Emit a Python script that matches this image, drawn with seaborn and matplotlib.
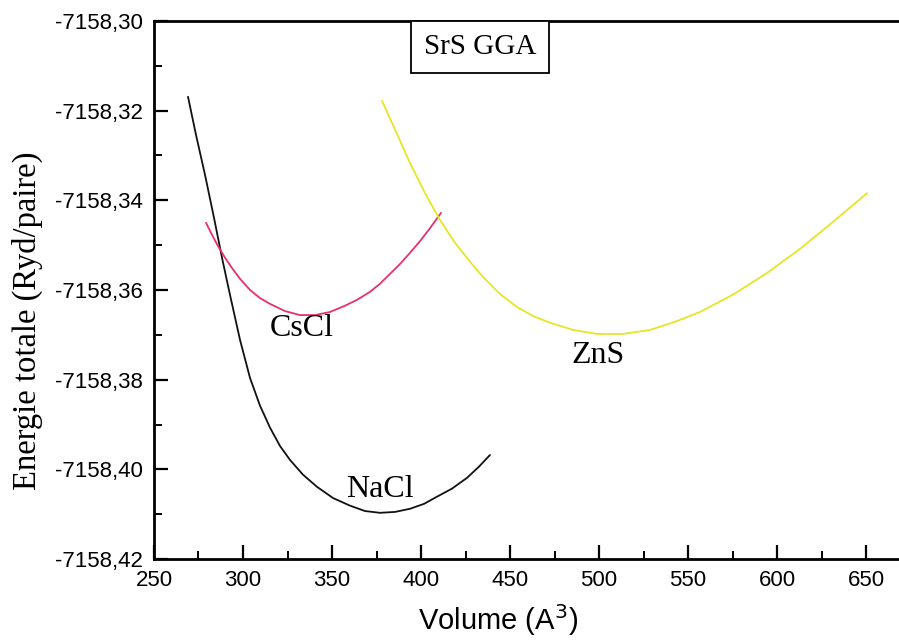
import numpy as np
import pandas as pd
import seaborn as sns
import matplotlib
matplotlib.use("Agg")
import matplotlib.pyplot as plt
from matplotlib.ticker import FuncFormatter, MultipleLocator

# ---- data ----
nacl_v = [269.10, 273.60, 278.65, 283.71, 288.20, 292.70, 298.31, 303.93, 309.55, 315.17,
          320.79, 326.40, 333.71, 341.57, 350.56, 360.11, 368.54, 376.97, 385.39, 393.82,
          401.69, 408.99, 417.42, 425.84, 432.58, 438.76]
nacl_e = [-7158.3169, -7158.3254, -7158.3343, -7158.3439, -7158.3528, -7158.3611, -7158.3711,
          -7158.3796, -7158.3858, -7158.3907, -7158.3948, -7158.3979, -7158.4012, -7158.4039,
          -7158.4064, -7158.4081, -7158.4093, -7158.4097, -7158.4095, -7158.4088, -7158.4077,
          -7158.4061, -7158.4043, -7158.4019, -7158.3994, -7158.3968]

cscl_v = [279.22, 282.59, 285.96, 289.89, 293.82, 298.32, 303.94, 309.56, 315.17, 323.60,
          332.03, 340.46, 348.88, 357.31, 364.06, 371.36, 376.98, 382.60, 388.21, 393.83,
          399.45, 405.07, 411.25]
cscl_e = [-7158.3450, -7158.3477, -7158.3502, -7158.3528, -7158.3551, -7158.3575, -7158.3600,
          -7158.3618, -7158.3631, -7158.3647, -7158.3656, -7158.3656, -7158.3649, -7158.3635,
          -7158.3622, -7158.3604, -7158.3586, -7158.3564, -7158.3542, -7158.3517, -7158.3491,
          -7158.3462, -7158.3428]

zns_v = [378.10, 385.97, 393.83, 402.26, 410.69, 419.12, 427.54, 434.85, 444.40, 453.95,
         462.94, 472.49, 485.41, 498.90, 513.50, 528.67, 542.72, 556.77, 575.87, 594.41,
         612.96, 631.50, 650.60]
zns_e = [-7158.3178, -7158.3247, -7158.3317, -7158.3384, -7158.3444, -7158.3495, -7158.3537,
         -7158.3571, -7158.3609, -7158.3638, -7158.3658, -7158.3673, -7158.3689, -7158.3698,
         -7158.3698, -7158.3689, -7158.3671, -7158.3649, -7158.3609, -7158.3562, -7158.3508,
         -7158.3448, -7158.3384]

phases = ["NaCl", "CsCl", "ZnS"]
colors = {"NaCl": "#111111", "CsCl": "#e8306a", "ZnS": "#e6e626"}
y_ticks = [-7158.42, -7158.40, -7158.38, -7158.36, -7158.34, -7158.32, -7158.30]
x_ticks = [250, 300, 350, 400, 450, 500, 550, 600, 650]

df = pd.concat([
    pd.DataFrame({"Volume": nacl_v, "Energie": nacl_e, "phase": "NaCl"}),
    pd.DataFrame({"Volume": cscl_v, "Energie": cscl_e, "phase": "CsCl"}),
    pd.DataFrame({"Volume": zns_v, "Energie": zns_e, "phase": "ZnS"}),
], ignore_index=True)

sns.set_style("white")
plt.rcParams["font.family"] = ["Liberation Sans", "DejaVu Sans"]
plt.rcParams["text.color"] = "black"
plt.rcParams["axes.labelcolor"] = "black"

fig = plt.figure(figsize=(8.99, 6.40), dpi=100)
ax = fig.add_axes([154/899, 1 - 559/640, 1 - 154/899, (559 - 21)/640])

sns.lineplot(data=df, x="Volume", y="Energie", hue="phase", hue_order=phases,
             palette=colors, estimator=None, sort=True, legend=False, lw=1.3, ax=ax)

ax.set_xlim(250, 250 + 745/1.78)
ax.set_ylim(-7158.42, -7158.30)
ax.set_xticks(x_ticks)
ax.set_yticks(y_ticks)
ax.xaxis.set_minor_locator(MultipleLocator(25))
ax.yaxis.set_minor_locator(MultipleLocator(0.01))
ax.yaxis.set_major_formatter(FuncFormatter(lambda v, p: f"{v:.2f}".replace(".", ",")))

ax.tick_params(axis="both", which="major", direction="in", length=10, width=1.6,
               labelsize=16, pad=8, colors="black")
ax.tick_params(axis="both", which="minor", direction="in", length=6, width=1.4, colors="black")
ax.tick_params(axis="x", which="both", top=False, bottom=True)
ax.tick_params(axis="y", which="both", left=True, right=False)

for s in ["left", "bottom", "top"]:
    ax.spines[s].set_linewidth(2.0)
    ax.spines[s].set_color("black")
ax.spines["right"].set_visible(False)

ax.set_xlabel("Volume (A$^3$)", fontsize=21, family=["Liberation Sans"], color="black")
ax.xaxis.set_label_coords((498 - 154) / 745, -0.08)
ax.set_ylabel("Energie totale (Ryd/paire)", fontsize=23.5, family=["Liberation Serif"],
              color="black")
ax.yaxis.set_label_coords(-(154 - 43) / 745, (559 - 321) / 538)

serif = ["Liberation Serif", "DejaVu Serif"]
ax.text(333.1, -7158.3685, "CsCl", fontsize=23, family=serif, ha="center", va="center", color="black")
ax.text(377.0, -7158.4046, "NaCl", fontsize=23, family=serif, ha="center", va="center", color="black")
ax.text(499.4, -7158.3745, "ZnS", fontsize=23, family=serif, ha="center", va="center", color="black")
ax.text(433.1, -7158.3058, "SrS GGA", fontsize=21, family=serif, ha="center", va="center", color="black",
        bbox=dict(boxstyle="square,pad=0.45", facecolor="white", edgecolor="black", lw=1.3))

fig.savefig("out.png", dpi=100)
